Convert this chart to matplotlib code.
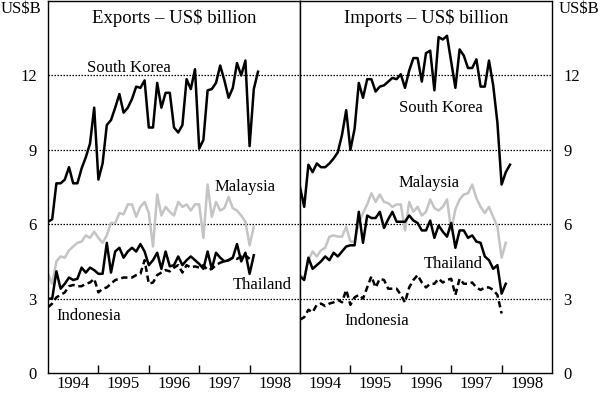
import numpy as np
import matplotlib
matplotlib.use("Agg")
import matplotlib.pyplot as plt

plt.rcParams['font.family'] = ['Liberation Serif', 'DejaVu Serif']

# Monthly data, starting January 1994 (US$ billion)
exp_korea = [6.1, 6.2, 7.65, 7.65, 7.8, 8.3, 7.65, 7.65, 8.25, 8.7,
             9.25, 10.7, 7.8, 8.45, 10.0, 10.2, 10.7, 11.25, 10.5, 10.7,
             11.05, 11.55, 11.5, 11.8, 9.9, 9.9, 11.7, 10.7, 11.3, 11.3,
             9.9, 9.7, 10.0, 11.85, 11.45, 12.25, 9.05, 9.4, 11.4, 11.45,
             11.7, 12.4, 11.8, 11.1, 11.5, 12.5, 12.0, 12.6, 9.15, 11.45, 12.15]
exp_malaysia = [4.0, 3.6, 4.5, 4.7, 4.65, 4.95, 5.1, 5.25, 5.3, 5.55,
                5.45, 5.7, 5.45, 5.25, 5.55, 6.05, 6.05, 6.45, 6.4, 6.8,
                6.8, 6.3, 6.7, 6.9, 6.45, 5.1, 7.2, 6.35, 6.7, 6.5,
                6.35, 6.9, 6.7, 6.8, 6.55, 6.8, 6.8, 5.45, 7.6, 6.3,
                6.9, 6.55, 6.65, 7.1, 6.65, 6.55, 6.35, 6.1, 5.15, 5.9]
exp_thailand = [3.0, 3.0, 4.1, 3.4, 3.6, 3.85, 3.75, 3.8, 4.25, 4.05,
                4.25, 4.15, 4.0, 4.0, 5.25, 4.05, 4.9, 5.05, 4.65, 4.9,
                5.05, 4.9, 5.2, 4.9, 4.35, 4.55, 4.85, 4.2, 4.9, 4.3,
                4.35, 4.7, 4.35, 4.55, 4.7, 4.55, 4.4, 4.2, 4.9, 4.2,
                4.85, 4.65, 4.5, 4.55, 4.65, 5.2, 4.5, 4.85, 4.0, 4.75]
exp_indonesia = [2.65, 2.8, 3.05, 3.15, 3.25, 3.5, 3.55, 3.5, 3.5, 3.6,
                 3.65, 3.8, 3.25, 3.4, 3.45, 3.6, 3.75, 3.8, 3.85, 3.85,
                 3.85, 3.95, 4.0, 4.55, 3.6, 3.65, 3.95, 4.05, 4.15, 4.1,
                 4.25, 4.35, 4.05, 4.35, 4.25, 4.3, 4.25, 4.35, 4.15, 4.2,
                 4.35, 4.45, 4.5, 4.55, 4.65, 4.6, 4.7, 4.75, 4.6]

imp_korea = [7.5, 6.7, 8.4, 8.1, 8.45, 8.3, 8.3, 8.45, 8.65, 8.9,
             9.6, 10.6, 9.0, 9.85, 11.7, 11.1, 11.85, 11.85, 11.35, 11.55,
             11.6, 11.75, 11.9, 11.85, 12.05, 11.5, 12.2, 12.7, 12.7, 11.75,
             12.9, 13.0, 11.4, 13.55, 13.45, 13.6, 12.55, 11.5, 13.05, 12.8,
             12.3, 12.3, 12.65, 11.55, 11.55, 12.6, 11.6, 10.1, 7.6, 8.1, 8.4]
imp_malaysia = [3.95, 3.8, 4.55, 4.9, 4.7, 4.95, 5.05, 5.5, 5.55, 5.5,
                5.5, 5.9, 5.3, 5.3, 6.05, 6.45, 6.8, 7.25, 6.9, 7.2,
                6.9, 6.85, 6.7, 6.8, 6.8, 5.75, 6.9, 6.5, 6.7, 6.35,
                6.5, 7.0, 6.65, 6.55, 6.7, 7.0, 5.75, 6.6, 7.0, 7.2,
                7.25, 7.6, 7.05, 6.7, 6.45, 6.7, 6.3, 5.9, 4.65, 5.25]
imp_thailand = [3.9, 3.75, 4.65, 4.2, 4.35, 4.5, 4.7, 4.55, 4.85, 4.7,
                4.9, 5.1, 5.15, 5.15, 6.5, 5.25, 6.35, 6.25, 6.25, 6.5,
                5.85, 6.2, 6.5, 6.1, 6.1, 6.1, 6.35, 6.15, 6.05, 5.75,
                5.75, 6.15, 5.45, 5.95, 5.7, 5.5, 6.05, 5.05, 5.75, 5.75,
                5.45, 5.55, 5.3, 5.25, 4.7, 4.55, 4.2, 4.35, 3.2, 3.6]
imp_indonesia = [2.15, 2.25, 2.55, 2.45, 2.75, 2.8, 2.7, 2.8, 2.85, 2.95,
                 2.85, 3.35, 2.75, 3.05, 3.15, 3.0, 3.45, 3.9, 3.45, 3.8,
                 3.75, 3.4, 3.4, 3.4, 3.15, 2.85, 3.45, 3.75, 3.95, 3.65,
                 3.45, 3.6, 3.6, 3.8, 3.65, 3.75, 3.8, 3.15, 3.8, 3.6,
                 3.6, 3.65, 3.45, 3.35, 3.45, 3.45, 3.35, 3.15, 2.4]

years = [1994, 1995, 1996, 1997, 1998]
gray = '#c4c4c4'


def months(vals):
    return 1994 + np.arange(len(vals)) / 12.0


fig = plt.figure(figsize=(6, 3.94), dpi=100)
ax1 = fig.add_axes([0.08, 0.0533, 0.42, 0.944])
ax2 = fig.add_axes([0.50, 0.0533, 0.42, 0.944])

panels = [
    (ax1, exp_korea, exp_malaysia, exp_thailand, exp_indonesia, 'Exports \u2013 US$ billion'),
    (ax2, imp_korea, imp_malaysia, imp_thailand, imp_indonesia, 'Imports \u2013 US$ billion'),
]

for ax, kor, mal, tha, ind, title in panels:
    for y in [3, 6, 9, 12]:
        ax.axhline(y, color='black', lw=0.9, ls=(0, (1.2, 1.2)), zorder=1)
    ax.plot(months(mal), mal, color=gray, lw=1.8, zorder=2)
    ax.plot(months(ind), ind, color='black', lw=1.8, dashes=(2.5, 1.5), zorder=3)
    ax.plot(months(tha), tha, color='black', lw=1.8, zorder=4)
    ax.plot(months(kor), kor, color='black', lw=1.8, zorder=4)
    ax.set_xlim(1994, 1999)
    ax.set_ylim(0, 15)
    ax.set_xticks([1995, 1996, 1997, 1998])
    ax.set_xticklabels([])
    ax.set_xticks([yr + 0.5 for yr in years], minor=True)
    ax.set_xticklabels([str(yr) for yr in years], minor=True)
    ax.tick_params(axis='x', which='major', direction='in', length=6, width=1)
    ax.tick_params(axis='x', which='minor', length=0, pad=2, labelsize=12)
    ax.set_yticks([0, 3, 6, 9, 12])
    ax.tick_params(axis='y', length=0, labelsize=12, pad=8)
    for s in ax.spines.values():
        s.set_linewidth(1.0)
    ax.text(0.5, 0.955, title, transform=ax.transAxes, ha='center', va='center',
            fontsize=13.5)

ax2.yaxis.tick_right()

# series labels
ax1.text(1995.6, 12.3, 'South Korea', ha='center', va='center', fontsize=12)
ax1.text(1997.9, 7.5, 'Malaysia', ha='center', va='center', fontsize=12)
ax1.text(1998.25, 3.55, 'Thailand', ha='center', va='center', fontsize=12)
ax1.text(1994.8, 2.3, 'Indonesia', ha='center', va='center', fontsize=12)
ax2.text(1996.8, 10.7, 'South Korea', ha='center', va='center', fontsize=12)
ax2.text(1996.55, 7.65, 'Malaysia', ha='center', va='center', fontsize=12)
ax2.text(1997.05, 4.4, 'Thailand', ha='center', va='center', fontsize=12)
ax2.text(1995.53, 2.1, 'Indonesia', ha='center', va='center', fontsize=12)

fig.text(0.035, 0.978, 'US$B', ha='center', va='center', fontsize=12)
fig.text(0.965, 0.978, 'US$B', ha='center', va='center', fontsize=12)

fig.savefig('out.png', dpi=100)
